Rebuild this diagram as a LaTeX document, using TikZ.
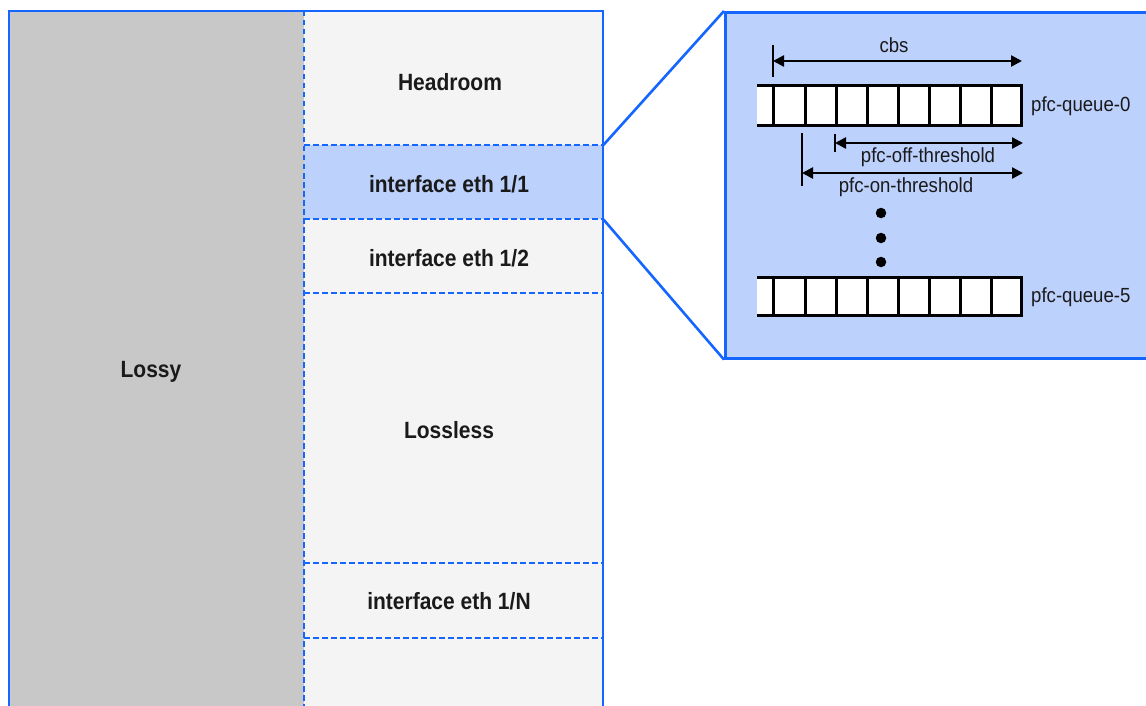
\documentclass[tikz,border=0pt]{standalone}
\usepackage{fontspec}
\setmainfont{Liberation Sans}
\usetikzlibrary{arrows.meta}
\definecolor{bblue}{HTML}{1466FF}
\definecolor{lgray}{HTML}{F4F4F4}
\definecolor{dgray}{HTML}{C8C8C8}
\definecolor{hblue}{HTML}{BDD1FD}
\definecolor{txt}{HTML}{1A1A1A}
\newcommand{\boldlab}[1]{\scalebox{1}[1.12]{\fontsize{21}{24}\selectfont\bfseries #1}}
\newcommand{\plainlab}[1]{\scalebox{1}[1.1]{\fontsize{18.6}{22}\selectfont #1}}
\tikzset{
  blueline/.style={draw=bblue, line width=2.6pt},
  dashline/.style={draw=bblue, line width=2.6pt, dash pattern=on 5.5pt off 3.5pt},
  bandlab/.style={anchor=base, inner sep=0pt, text=txt},
  smalllab/.style={anchor=base, inner sep=0pt, text=txt},
  qline/.style={draw=black, line width=3pt},
  tick/.style={draw=black, line width=2.8pt},
  dimarrow/.style={draw=black, line width=2.4pt, {Triangle[length=11pt,width=11pt]}-{Triangle[length=11pt,width=11pt]}},
  dotmark/.style={circle, fill=black, inner sep=0pt, minimum size=10.5pt}
}
\begin{document}
\begin{tikzpicture}[x=1pt,y=-1pt]
\useasboundingbox (0,0) rectangle (1146,706);
\fill[white] (0,0) rectangle (1146,706);
% left pool
\fill[dgray] (9,11) rectangle (304,712);
\fill[lgray] (304,11) rectangle (603,712);
\node[fill=hblue, minimum width=299pt, minimum height=74pt, inner sep=0pt, anchor=north west] (hl) at (304,145) {};
\draw[dashline] (304,11) -- (304,712);
\draw[dashline] (304,145) -- (603,145);
\draw[dashline] (304,219) -- (603,219);
\draw[dashline] (304,293) -- (603,293);
\draw[dashline] (304,563) -- (603,563);
\draw[dashline] (304,638) -- (603,638);
\draw[blueline] (9,712) -- (9,11) -- (603,11) -- (603,712);
% labels
\node[bandlab] (lossy) at (151,377) {\boldlab{Lossy}};
\node[bandlab] (head) at (450,91) {\boldlab{Headroom}};
\node[bandlab] (e11) at (449,192) {\boldlab{interface eth 1/1}};
\node[bandlab] (e12) at (449,266) {\boldlab{interface eth 1/2}};
\node[bandlab] (lossless) at (449,438) {\boldlab{Lossless}};
\node[bandlab] (e1n) at (449,609) {\boldlab{interface eth 1/N}};
% zoom box
\node[fill=hblue, draw=bblue, line width=2.6pt, minimum width=430pt, minimum height=346pt, inner sep=0pt, anchor=north west] (zoom) at (724,11) {};
\draw[blueline] (hl.north east) -- (zoom.north west);
\draw[blueline] (hl.south east) -- (zoom.south west);
% queue 0
\fill[white] (757,86) rectangle (1021,126);
\draw[qline] (757,86) -- (1021,86) -- (1021,126) -- (757,126);
\foreach \x in {773,805,836,867,898,929,960,991} \draw[qline] (\x,86) -- (\x,126);
% queue 5
\fill[white] (757,277) rectangle (1021,315);
\draw[qline] (757,277) -- (1021,277) -- (1021,315) -- (757,315);
\foreach \x in {773,805,836,867,898,929,960,991} \draw[qline] (\x,277) -- (\x,315);
\node[smalllab, anchor=base west] (q0) at (1031,112) {\plainlab{pfc-queue-0}};
\node[smalllab, anchor=base west] (q5) at (1031,302) {\plainlab{pfc-queue-5}};
% dimensions
\coordinate (cbsA) at (773,61);
\coordinate (cbsB) at (1022,61);
\draw[tick] (773,45) -- (773,77);
\draw[dimarrow] (cbsA) -- (cbsB);
\node[smalllab] (cbs) at (894,53) {\plainlab{cbs}};
\coordinate (offA) at (835,143);
\coordinate (offB) at (1023,143);
\draw[tick] (835,134) -- (835,152);
\draw[dimarrow] (offA) -- (offB);
\node[smalllab] (off) at (928,162) {\plainlab{pfc-off-threshold}};
\coordinate (onA) at (802,173);
\coordinate (onB) at (1023,173);
\draw[tick] (802,133) -- (802,186);
\draw[dimarrow] (onA) -- (onB);
\node[smalllab] (on) at (906,192) {\plainlab{pfc-on-threshold}};
% dots
\node[dotmark] (d1) at (881,213) {};
\node[dotmark] (d2) at (881,238) {};
\node[dotmark] (d3) at (881,262) {};
\end{tikzpicture}
\end{document}
